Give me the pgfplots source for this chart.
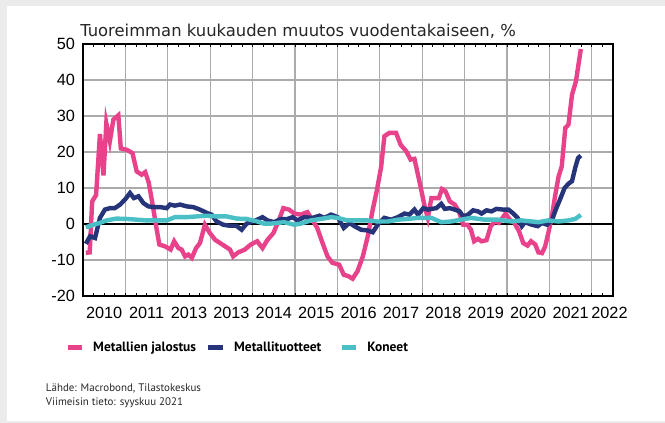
\documentclass[border=0pt]{standalone}
\usepackage{fontspec}
\setmainfont{Liberation Sans}
\newfontfamily\titlefont{DejaVu Sans}
\newfontfamily\ptfont{PT Sans}
\usepackage{pgfplots}
\usepackage{pgfplotstable}
\pgfplotsset{compat=1.18}
\definecolor{cpink}{HTML}{E8428A}
\definecolor{cnavy}{HTML}{263479}
\definecolor{ccyan}{HTML}{4BBFC6}
\definecolor{cbg}{HTML}{EBEBEB}

% x = months since start of 2010
\pgfplotstableread{
m y
0.8 -8.0
1.9 -7.9
2.6 6.3
3.7 8.0
4.8 25.0
5.8 13.5
6.6 28.0
7.6 23.0
8.6 29.0
10.0 30.2
10.7 21.0
12.4 20.6
14.0 19.7
15.2 14.6
16.6 13.7
17.6 14.4
18.6 11.5
19.6 6.0
20.7 -0.6
21.6 -5.7
23.2 -6.2
24.8 -7.1
25.8 -4.8
27.0 -6.7
27.9 -7.1
28.9 -9.0
29.8 -8.5
30.8 -9.4
32.0 -6.7
33.1 -5.3
34.5 -0.2
35.9 -2.5
37.4 -4.4
38.8 -5.3
40.2 -6.2
41.6 -7.1
42.5 -9.0
43.9 -7.9
45.8 -7.1
47.5 -5.7
49.3 -4.8
50.8 -6.7
52.2 -4.4
53.9 -2.5
55.5 1.2
56.7 4.4
58.3 4.0
59.8 2.9
61.6 2.6
63.5 3.3
64.9 1.2
66.3 -1.1
67.8 -5.3
69.2 -9.0
70.6 -10.8
72.5 -11.3
73.8 -14.1
75.1 -14.5
76.3 -15.2
77.7 -13.1
79.2 -9.0
80.6 -3.4
82.0 4.0
83.2 9.5
84.4 16.0
85.3 24.4
86.7 25.3
88.6 25.3
89.9 22.0
91.5 20.2
92.7 17.9
93.8 18.1
95.2 11.9
96.7 4.9
97.6 1.7
98.6 7.2
100.7 7.2
101.6 9.7
102.6 9.1
103.8 6.3
105.2 5.4
106.4 3.5
107.6 -0.2
108.8 -0.2
109.8 -1.6
110.7 -4.8
111.8 -4.1
112.8 -4.8
114.2 -4.5
115.4 -0.6
116.6 0.7
117.7 0.3
119.6 2.9
120.8 1.2
122.1 0.3
123.4 -2.0
124.6 -5.3
125.8 -6.0
126.8 -4.8
128.0 -5.7
128.9 -7.9
129.9 -8.1
130.8 -6.2
131.7 -2.5
132.7 2.1
133.6 7.7
134.6 13.2
135.5 16.0
136.5 26.7
137.4 27.6
138.4 35.9
139.5 39.6
140.3 44.7
140.9 48.6
}\jalostus

\pgfplotstableread{
m y
0.8 -5.5
2.0 -3.4
3.4 -3.9
4.8 1.7
6.2 4.0
7.6 4.4
9.0 4.4
10.5 5.4
11.9 6.8
13.3 8.6
14.4 7.2
15.7 7.7
17.1 5.8
18.5 4.9
19.9 4.7
21.8 4.7
23.7 4.4
24.6 5.4
26.0 5.1
27.5 5.4
29.3 4.9
31.2 4.7
33.1 4.0
35.0 3.1
36.4 2.6
37.8 0.7
39.7 -0.2
41.6 -0.5
43.4 -0.5
44.9 -1.6
46.3 0.1
48.9 1.0
50.8 1.9
52.2 1.0
54.1 0.5
56.0 1.4
57.9 1.4
59.3 1.9
60.7 1.0
62.6 1.9
65.0 1.7
66.9 2.3
68.3 1.7
70.2 2.6
72.1 1.9
73.8 -1.1
75.4 0.3
76.8 -0.6
78.7 -1.6
80.6 -1.8
82.0 -2.3
83.4 -0.2
85.3 1.7
87.2 1.2
89.1 1.9
91.0 2.9
92.4 2.6
93.8 4.0
94.8 2.6
96.3 4.4
97.6 4.0
98.6 4.2
100.0 4.4
101.4 5.6
102.4 4.2
103.8 4.4
105.2 4.0
106.6 3.5
107.6 2.1
109.0 2.6
110.4 3.8
111.8 3.5
112.8 2.9
114.2 3.8
115.6 3.5
117.0 4.2
118.9 4.0
120.4 4.0
121.8 2.9
123.0 1.7
124.2 -0.6
125.1 0.5
127.0 -0.2
128.7 -0.6
129.9 0.3
131.3 -0.2
132.7 1.0
133.8 4.0
135.0 6.8
136.3 10.0
137.4 11.2
138.4 11.9
139.3 15.6
140.1 18.3
140.9 19.0
}\tuotteet

\pgfplotstableread{
m y
0.8 -0.9
3.0 -0.2
4.8 0.3
6.7 1.0
9.5 1.5
12.4 1.4
15.2 1.2
18.0 1.0
20.8 1.0
23.7 1.0
26.0 1.9
29.3 1.9
32.2 2.1
35.0 2.3
37.8 2.1
40.7 2.1
43.5 1.5
46.3 1.4
49.3 0.7
51.2 0.1
53.1 0.1
55.0 0.3
56.9 0.5
59.8 -0.2
61.6 0.1
64.5 1.0
67.3 1.4
70.2 1.9
72.1 1.7
74.8 1.0
77.7 1.0
80.6 1.0
83.4 0.7
86.3 0.7
89.1 1.2
91.9 1.4
94.8 1.7
98.6 1.7
101.4 0.5
104.2 0.7
107.0 1.2
109.8 1.7
113.6 1.2
117.4 1.2
121.2 0.7
124.1 1.0
127.0 0.7
128.9 0.5
131.7 1.0
134.6 0.7
137.4 1.0
139.3 1.4
140.9 2.5
}\koneet

\begin{document}
\begin{tikzpicture}[x=0.75pt,y=0.75pt]
% page background, 665 x 423 px
\fill[cbg] (0,0) rectangle (665,423);
\fill[white] (6.7,1.5) rectangle (665,417);

\begin{axis}[
    at={(62.25pt,95.25pt)}, anchor=south west,
    scale only axis, width=397.5pt, height=189pt,
    xmin=0, xmax=150, ymin=-20, ymax=50,
    axis line style={black, line width=1.1pt},
    grid=major,
    grid style={black!33, line width=1pt},
    tick align=inside,
    xtick={0,12,...,144}, xticklabels={},
    major x tick style={draw=none},
    minor xtick={3,6,...,147},
    minor x tick style={black, line width=0.6pt},
    minor tick length=2.5pt,
    extra x ticks={6,18,...,138,149},
    extra x tick labels={2010,2011,2013,2013,2014,2015,2016,2017,2018,2019,2020,2021,2022},
    extra x tick style={grid=none, major tick length=0pt},
    ytick={-20,-10,...,50},
    major y tick style={draw=none},
    extra y ticks={0}, extra y tick labels={},
    extra y tick style={grid=major, major tick length=0pt,
        grid style={black, line width=1.5pt}},
    tick label style={font=\fontsize{12.2}{14}\selectfont,
        /pgf/number format/assume math mode=true},
    yticklabel style={xshift=-2.5pt},
    xticklabel style={yshift=-5pt},
    legend columns=3,
    legend style={at={(axis description cs:-0.034,-0.205)}, anchor=west,
        draw=none, fill=none, inner sep=0pt,
        font=\ptfont\bfseries\fontsize{10.1}{12}\selectfont,
        /tikz/every odd column/.append style={column sep=4.5pt},
        /tikz/column 2/.style={column sep=5.5pt},
        /tikz/column 4/.style={column sep=11.5pt}},
    legend image code/.code={\draw[#1, line width=3.5pt] (0pt,0pt) -- (11pt,0pt);},
]
\addplot[cpink, line width=3.3pt] table[x=m, y=y] {\jalostus};
\addlegendentry{Metallien jalostus}
\addplot[cnavy, line width=3.3pt] table[x=m, y=y] {\tuotteet};
\addlegendentry{Metallituotteet}
\addplot[ccyan, line width=3.3pt] table[x=m, y=y] {\koneet};
\addlegendentry{Koneet}
\end{axis}

\node[anchor=base west, inner sep=0pt, text=black!85,
      font=\titlefont\fontsize{12.3}{14}\selectfont] at (80,386)
      {Tuoreimman kuukauden muutos vuodentakaiseen, \%};
\node[anchor=base west, inner sep=0pt, text=black!85,
      font=\ptfont\fontsize{8.2}{10}\selectfont] at (45.7,31.5)
      {Lähde: Macrobond, Tilastokeskus};
\node[anchor=base west, inner sep=0pt, text=black!85,
      font=\ptfont\fontsize{8.2}{10}\selectfont] at (45.7,17)
      {Viimeisin tieto: syyskuu 2021};

\pgfresetboundingbox
\path[use as bounding box] (0,0) rectangle (665,423);
\end{tikzpicture}
\end{document}
